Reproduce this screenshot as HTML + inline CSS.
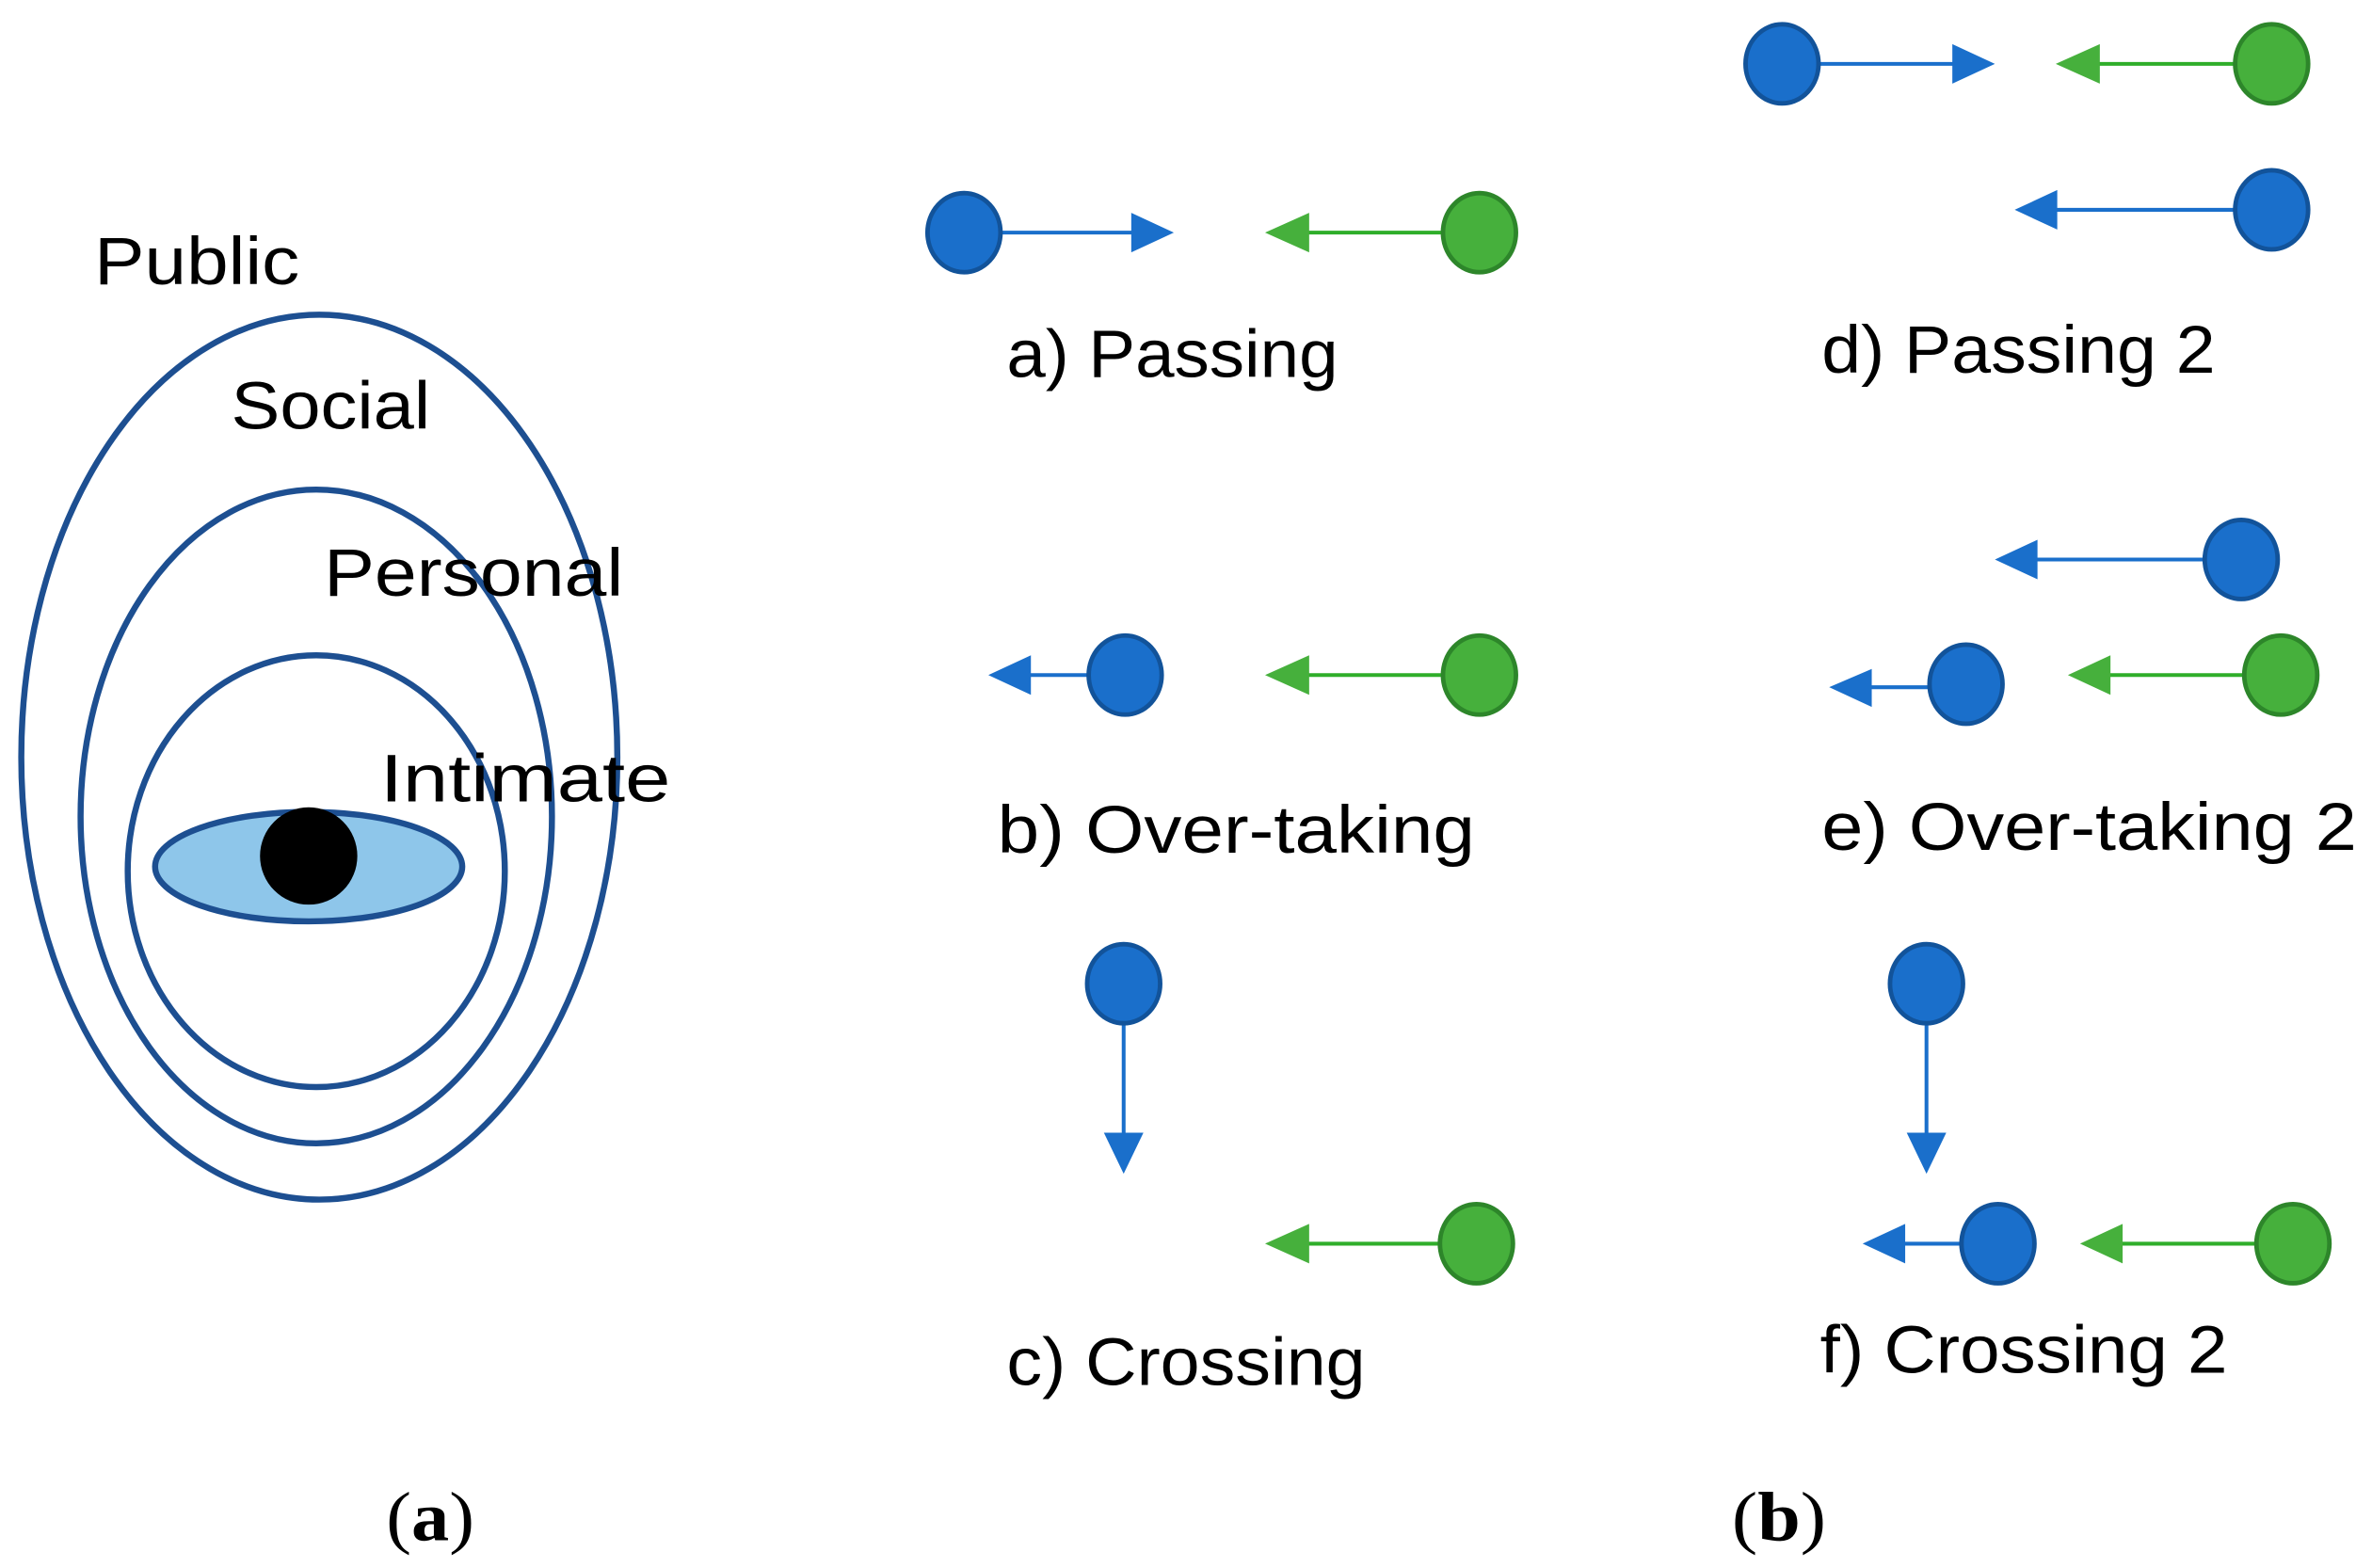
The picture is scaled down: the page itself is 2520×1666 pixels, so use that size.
<!DOCTYPE html>
<html><head><meta charset="utf-8"><style>html,body{margin:0;padding:0;background:#fff}svg{display:block}</style></head>
<body>
<svg width="2520" height="1666" viewBox="0 0 1560 1031.3" preserveAspectRatio="none" xmlns="http://www.w3.org/2000/svg">
<defs>
<g id="bc"><ellipse rx="24" ry="26" fill="#1a6fcb" stroke="#12539a" stroke-width="3"/></g>
<g id="gc"><ellipse rx="24" ry="26" fill="#46b03c" stroke="#2d862a" stroke-width="3"/></g>
</defs>
<g fill="none" stroke="#1d4f91" stroke-width="4">
<ellipse cx="210" cy="498" rx="196" ry="291"/>
<ellipse cx="208" cy="537" rx="155" ry="215"/>
<ellipse cx="208" cy="573" rx="124" ry="142"/>
</g>
<ellipse cx="203" cy="570" rx="101" ry="36" fill="#8ec6ea" stroke="#1d4f91" stroke-width="4"/>
<circle cx="203" cy="563" r="32" fill="#000"/>
<g font-family="Liberation Sans, sans-serif" font-size="44" fill="#000">
<text x="62" y="187" textLength="135" lengthAdjust="spacingAndGlyphs">Public</text>
<text x="152" y="282" textLength="131" lengthAdjust="spacingAndGlyphs">Social</text>
<text x="213" y="392" textLength="197" lengthAdjust="spacingAndGlyphs">Personal</text>
<text x="250" y="527" textLength="191" lengthAdjust="spacingAndGlyphs">Intimate</text>
<text x="662" y="248" textLength="218" lengthAdjust="spacingAndGlyphs">a) Passing</text>
<text x="1198" y="245" textLength="259" lengthAdjust="spacingAndGlyphs">d) Passing 2</text>
<text x="656" y="561" textLength="314" lengthAdjust="spacingAndGlyphs">b) Over-taking</text>
<text x="1198" y="559" textLength="352" lengthAdjust="spacingAndGlyphs">e) Over-taking 2</text>
<text x="662" y="911" textLength="236" lengthAdjust="spacingAndGlyphs">c) Crossing</text>
<text x="1197" y="903" textLength="268" lengthAdjust="spacingAndGlyphs">f) Crossing 2</text>
</g>
<g font-family="Liberation Serif, serif" font-size="46" fill="#000">
<text x="254" y="1013" textLength="58" lengthAdjust="spacingAndGlyphs">(<tspan font-weight="bold">a</tspan>)</text>
<text x="1139" y="1013" textLength="62" lengthAdjust="spacingAndGlyphs">(<tspan font-weight="bold">b</tspan>)</text>
</g>
<g stroke-width="2.5">
<line x1="658" y1="153" x2="745" y2="153" stroke="#1a6fcb"/><polygon points="772,153 744,140 744,166" fill="#1a6fcb"/>
<line x1="949" y1="153" x2="860" y2="153" stroke="#2fae2a"/><polygon points="832,153 861,140 861,166" fill="#46b03c"/>
<use href="#bc" x="634" y="153"/><use href="#gc" x="973" y="153"/>
<line x1="1196" y1="42" x2="1285" y2="42" stroke="#1a6fcb"/><polygon points="1312,42 1284,29 1284,55" fill="#1a6fcb"/>
<line x1="1470" y1="42" x2="1380" y2="42" stroke="#2fae2a"/><polygon points="1352,42 1381,29 1381,55" fill="#46b03c"/>
<line x1="1470" y1="138" x2="1352" y2="138" stroke="#1a6fcb"/><polygon points="1325,138 1353,125 1353,151" fill="#1a6fcb"/>
<use href="#bc" x="1172" y="42"/><use href="#gc" x="1494" y="42"/><use href="#bc" x="1494" y="138"/>
<line x1="716" y1="444" x2="676" y2="444" stroke="#1a6fcb"/><polygon points="650,444 678,431 678,457" fill="#1a6fcb"/>
<line x1="949" y1="444" x2="860" y2="444" stroke="#2fae2a"/><polygon points="832,444 861,431 861,457" fill="#46b03c"/>
<use href="#bc" x="740" y="444"/><use href="#gc" x="973" y="444"/>
<line x1="1450" y1="368" x2="1338" y2="368" stroke="#1a6fcb"/><polygon points="1312,368 1340,355 1340,381" fill="#1a6fcb"/>
<line x1="1269" y1="452" x2="1230" y2="452" stroke="#1a6fcb"/><polygon points="1203,452 1231,440 1231,465" fill="#1a6fcb"/>
<line x1="1476" y1="444" x2="1387" y2="444" stroke="#2fae2a"/><polygon points="1360,444 1388,431 1388,457" fill="#46b03c"/>
<use href="#bc" x="1474" y="368"/><use href="#bc" x="1293" y="450"/><use href="#gc" x="1500" y="444"/>
<line x1="739" y1="672" x2="739" y2="746" stroke="#1a6fcb"/><polygon points="739,772 726,745 752,745" fill="#1a6fcb"/>
<line x1="947" y1="818" x2="860" y2="818" stroke="#2fae2a"/><polygon points="832,818 861,805 861,831" fill="#46b03c"/>
<use href="#bc" x="739" y="647"/><use href="#gc" x="971" y="818"/>
<line x1="1267" y1="672" x2="1267" y2="746" stroke="#1a6fcb"/><polygon points="1267,772 1254,745 1280,745" fill="#1a6fcb"/>
<line x1="1290" y1="818" x2="1252" y2="818" stroke="#1a6fcb"/><polygon points="1225,818 1253,805 1253,831" fill="#1a6fcb"/>
<line x1="1484" y1="818" x2="1395" y2="818" stroke="#2fae2a"/><polygon points="1368,818 1396,805 1396,831" fill="#46b03c"/>
<use href="#bc" x="1267" y="647"/><use href="#bc" x="1314" y="818"/><use href="#gc" x="1508" y="818"/>
</g>
</svg>
</body></html>
